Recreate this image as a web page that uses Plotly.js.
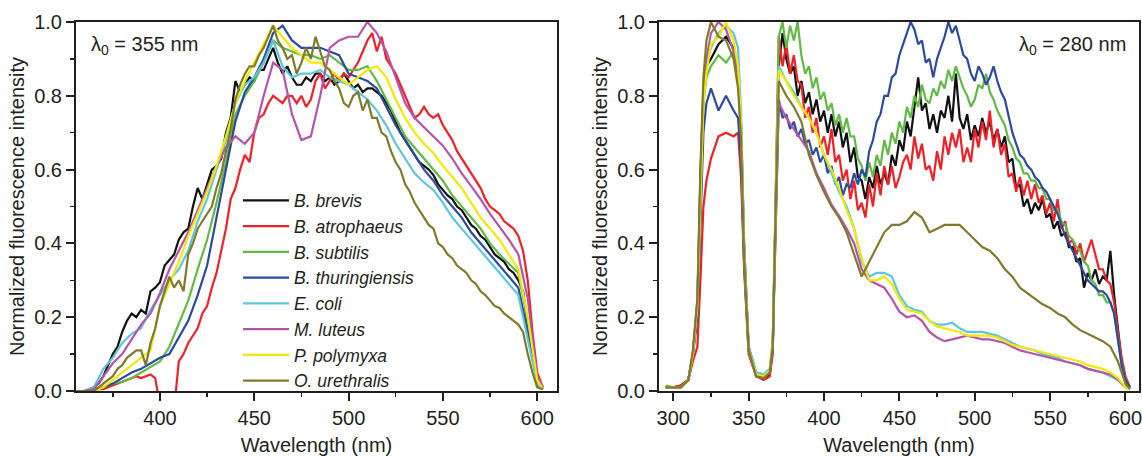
<!DOCTYPE html>
<html>
<head>
<meta charset="utf-8">
<script src="https://cdn.plot.ly/plotly-3.0.1.min.js"></script>
<style>
  html, body { margin: 0; padding: 0; background: #ffffff; }
  #chart { width: 1142px; height: 456px; }
</style>
</head>
<body>
<div id="chart"></div>
<script>
// ---------- data ----------
const seriesNames = ['B. brevis', 'B. atrophaeus', 'B. subtilis', 'B. thuringiensis',
                     'E. coli', 'M. luteus', 'P. polymyxa', 'O. urethralis'];
const seriesColors = ['#111111', '#ee2128', '#62b945', '#2c4b9f',
                      '#5ec6dc', '#b455ab', '#f3e800', '#7f7b2d'];

// ===== left panel: excitation 355 nm =====
// coarse wavelength grid (smoother spectra)
const wlL = [355,360,365,370,375,380,385,390,395,400,405,410,415,420,425,430,435,440,445,450,
             455,460,465,470,475,480,485,490,495,500,505,510,515,520,525,530,535,540,545,550,
             555,560,565,570,575,580,585,590,595,600,603];
// fine wavelength grid (noisier spectra)
const wlLn = [355,360,
  365,367.5,370,372.5,375,377.5,380,382.5,385,387.5,
  390,392.5,395,397.5,400,402.5,405,407.5,410,412.5,
  415,417.5,420,422.5,425,427.5,430,432.5,435,437.5,
  440,442.5,445,447.5,450,452.5,455,457.5,460,462.5,
  465,467.5,470,472.5,475,477.5,480,482.5,485,487.5,
  490,492.5,495,497.5,500,502.5,505,507.5,510,512.5,
  515,517.5,520,522.5,525,527.5,530,532.5,535,537.5,
  540,542.5,545,547.5,550,552.5,555,557.5,560,562.5,
  565,567.5,570,572.5,575,577.5,580,582.5,585,587.5,
  590,592.5,595,597.5,600,
  603];

const brevisL = [0,0,
  0.01,0.02,0.04,0.07,0.10,0.12,0.16,0.19,0.21,0.20,
  0.22,0.21,0.27,0.28,0.295,0.34,0.355,0.37,0.41,0.43,
  0.44,0.50,0.55,0.52,0.56,0.60,0.61,0.63,0.70,0.74,
  0.84,0.81,0.83,0.85,0.84,0.87,0.87,0.90,0.93,0.89,
  0.86,0.88,0.85,0.83,0.83,0.85,0.84,0.86,0.86,0.84,
  0.85,0.83,0.84,0.86,0.84,0.82,0.83,0.81,0.82,0.82,
  0.81,0.80,0.78,0.76,0.73,0.70,0.68,0.66,0.64,0.62,
  0.61,0.60,0.585,0.56,0.545,0.53,0.52,0.50,0.49,0.47,
  0.45,0.44,0.42,0.41,0.39,0.37,0.36,0.35,0.33,0.32,
  0.30,0.27,0.18,0.09,0.03,
  0.005];
const atrophaeusL = [0,0,
  0.005,0.005,0.005,0.01,0.015,0.02,0.025,0.03,0.035,0.04,
  0.035,0.04,0.045,0.035,-0.04,-0.05,-0.05,-0.05,0.08,0.10,
  0.13,0.15,0.17,0.21,0.23,0.28,0.32,0.38,0.44,0.52,
  0.55,0.60,0.64,0.62,0.70,0.74,0.75,0.78,0.80,0.79,
  0.78,0.80,0.80,0.78,0.80,0.77,0.79,0.84,0.86,0.82,
  0.84,0.86,0.84,0.86,0.85,0.87,0.89,0.92,0.95,0.97,
  0.92,0.96,0.90,0.88,0.86,0.83,0.80,0.77,0.74,0.75,
  0.77,0.75,0.74,0.75,0.72,0.70,0.68,0.65,0.63,0.61,
  0.59,0.57,0.55,0.52,0.50,0.49,0.48,0.46,0.45,0.44,
  0.42,0.38,0.30,0.16,0.05,
  0.01];
const urethralisL = [0,0,
  0.0,0.01,0.02,0.03,0.04,0.06,0.07,0.09,0.10,0.11,
  0.11,0.07,0.13,0.17,0.23,0.27,0.31,0.28,0.30,0.27,
  0.37,0.40,0.44,0.46,0.48,0.50,0.55,0.59,0.65,0.71,
  0.79,0.83,0.86,0.88,0.88,0.91,0.93,0.96,0.99,0.95,
  0.93,0.90,0.91,0.86,0.89,0.93,0.90,0.96,0.92,0.88,
  0.87,0.84,0.82,0.78,0.77,0.80,0.81,0.76,0.79,0.74,
  0.74,0.70,0.69,0.65,0.62,0.60,0.56,0.54,0.51,0.49,
  0.47,0.45,0.44,0.40,0.39,0.37,0.36,0.34,0.33,0.32,
  0.30,0.29,0.27,0.26,0.245,0.23,0.225,0.21,0.20,0.19,
  0.18,0.16,0.10,0.05,0.01,
  0.005];
const subtilisL = [0,0,0,0.01,0.02,0.025,0.035,0.05,0.065,0.08,0.12,0.18,0.245,0.33,0.41,0.51,0.62,0.75,0.80,0.84,
                   0.89,0.95,0.93,0.92,0.91,0.91,0.90,0.91,0.89,0.87,0.87,0.88,0.84,0.79,0.74,0.69,0.66,0.63,0.60,0.57,
                   0.53,0.50,0.47,0.44,0.40,0.37,0.345,0.32,0.19,0.03,0.005];
const thuringiensisL = [0,0,0.005,0.01,0.02,0.035,0.05,0.06,0.075,0.09,0.10,0.145,0.19,0.26,0.34,0.47,0.60,0.73,0.81,0.85,
                        0.90,0.97,0.99,0.95,0.93,0.93,0.93,0.92,0.91,0.86,0.85,0.84,0.82,0.77,0.72,0.68,0.64,0.60,0.57,0.53,
                        0.50,0.47,0.43,0.40,0.37,0.34,0.31,0.28,0.16,0.02,0.005];
const coliL = [0,0,0.01,0.06,0.09,0.13,0.155,0.17,0.22,0.26,0.30,0.33,0.38,0.46,0.52,0.60,0.68,0.78,0.83,0.85,
               0.89,0.95,0.88,0.85,0.86,0.86,0.87,0.85,0.84,0.83,0.81,0.79,0.76,0.72,0.67,0.63,0.59,0.565,0.545,0.51,
               0.47,0.44,0.41,0.38,0.35,0.32,0.29,0.26,0.14,0.02,0.005];
const luteusL = [0,0,0.005,0.04,0.075,0.10,0.14,0.18,0.21,0.265,0.33,0.38,0.43,0.49,0.55,0.61,0.66,0.69,0.67,0.70,
                 0.80,0.89,0.87,0.75,0.68,0.69,0.80,0.93,0.95,0.96,0.96,1.0,0.97,0.92,0.85,0.78,0.74,0.715,0.69,0.665,
                 0.63,0.59,0.555,0.52,0.48,0.445,0.41,0.37,0.25,0.04,0.01];
const polymyxaL = [0,0,0,0.01,0.03,0.05,0.07,0.09,0.11,0.23,0.29,0.35,0.42,0.48,0.54,0.61,0.69,0.78,0.84,0.89,
                   0.94,0.99,0.96,0.93,0.91,0.89,0.89,0.87,0.85,0.83,0.85,0.87,0.88,0.85,0.79,0.74,0.70,0.67,0.645,0.61,
                   0.58,0.55,0.51,0.47,0.44,0.41,0.37,0.33,0.20,0.03,0.005];

// ===== right panel: excitation 280 nm =====
const wlR = [295,300,305,310,313,316,318,320,322,325,330,335,340,343,345,347,350,355,360,364,366,368,
             370,375,380,385,390,395,400,405,410,415,420,425,430,435,440,445,450,455,460,465,
             470,475,480,485,490,495,500,505,510,515,520,525,530,535,540,545,550,555,560,565,
             570,575,580,585,590,595,600,603];
const wlRn = [295,300,305,310,313,316,318,320,322,325,330,335,340,343,345,347,350,355,360,364,366,368,
  370,372.5,375,377.5,380,382.5,385,387.5,390,392.5,
  395,397.5,400,402.5,405,407.5,410,412.5,415,417.5,
  420,422.5,425,427.5,430,432.5,435,437.5,440,442.5,
  445,447.5,450,452.5,455,457.5,460,462.5,465,467.5,
  470,472.5,475,477.5,480,482.5,485,487.5,490,492.5,
  495,497.5,500,502.5,505,507.5,510,512.5,515,517.5,
  520,522.5,525,527.5,530,532.5,535,537.5,540,542.5,
  545,547.5,550,552.5,555,557.5,560,562.5,565,567.5,
  570,572.5,575,577.5,580,582.5,585,587.5,590,592.5,
  595,597.5,600,
  603];

const brevisR = [0.01,0.01,0.015,0.03,0.10,0.24,0.58,0.82,0.88,0.90,0.94,0.96,0.93,0.86,0.72,0.40,0.12,0.045,0.035,0.045,0.12,0.50,
  0.88,0.97,0.90,0.86,0.88,0.80,0.84,0.78,0.81,0.75,
  0.79,0.73,0.76,0.70,0.75,0.69,0.73,0.66,0.70,0.62,
  0.66,0.58,0.57,0.52,0.58,0.55,0.61,0.56,0.59,0.56,
  0.64,0.61,0.68,0.65,0.73,0.69,0.77,0.85,0.76,0.78,
  0.71,0.75,0.70,0.76,0.74,0.80,0.73,0.86,0.74,0.71,
  0.75,0.68,0.72,0.69,0.74,0.70,0.73,0.68,0.71,0.66,
  0.69,0.62,0.63,0.55,0.56,0.50,0.52,0.48,0.51,0.49,
  0.52,0.47,0.48,0.44,0.46,0.42,0.43,0.39,0.39,0.35,
  0.36,0.28,0.32,0.30,0.33,0.29,0.31,0.30,0.38,0.26,
  0.17,0.08,0.03,
  0.01];
const atrophaeusR = [0.01,0.01,0.015,0.03,0.08,0.12,0.30,0.50,0.57,0.63,0.69,0.70,0.69,0.70,0.58,0.33,0.10,0.04,0.03,0.04,0.10,0.50,
  0.96,0.88,0.94,0.86,0.91,0.84,0.83,0.74,0.77,0.70,
  0.74,0.66,0.69,0.64,0.71,0.62,0.64,0.57,0.60,0.52,
  0.57,0.49,0.51,0.47,0.56,0.50,0.59,0.53,0.61,0.56,
  0.61,0.55,0.58,0.62,0.64,0.60,0.69,0.63,0.67,0.60,
  0.61,0.57,0.65,0.60,0.69,0.64,0.70,0.66,0.71,0.62,
  0.66,0.62,0.71,0.66,0.73,0.68,0.76,0.66,0.71,0.64,
  0.67,0.58,0.59,0.54,0.58,0.53,0.57,0.52,0.56,0.51,
  0.53,0.48,0.51,0.46,0.52,0.44,0.46,0.40,0.41,0.37,
  0.40,0.35,0.38,0.41,0.37,0.33,0.33,0.30,0.29,0.24,
  0.16,0.09,0.04,
  0.01];
const subtilisR = [0.015,0.01,0.01,0.03,0.10,0.20,0.50,0.78,0.85,0.88,0.91,0.89,0.92,0.85,0.70,0.38,0.12,0.05,0.045,0.055,0.13,0.55,
  0.96,1.0,0.93,0.99,0.95,1.0,0.91,0.86,0.88,0.82,
  0.85,0.79,0.81,0.76,0.78,0.72,0.75,0.70,0.74,0.69,
  0.69,0.63,0.61,0.57,0.62,0.58,0.64,0.61,0.68,0.64,
  0.70,0.67,0.73,0.70,0.77,0.74,0.80,0.77,0.83,0.79,
  0.78,0.82,0.80,0.84,0.82,0.87,0.84,0.88,0.85,0.82,
  0.80,0.77,0.79,0.83,0.82,0.86,0.81,0.79,0.76,0.74,
  0.72,0.68,0.66,0.63,0.62,0.59,0.59,0.57,0.57,0.55,
  0.55,0.52,0.52,0.49,0.49,0.46,0.45,0.42,0.41,0.39,
  0.38,0.35,0.34,0.30,0.29,0.26,0.26,0.24,0.24,0.21,
  0.14,0.07,0.03,
  0.01];
const thuringiensisR = [0.01,0.01,0.01,0.03,0.10,0.20,0.48,0.70,0.78,0.82,0.76,0.80,0.76,0.74,0.62,0.35,0.11,0.045,0.04,0.05,0.12,0.45,
  0.79,0.74,0.75,0.71,0.73,0.69,0.71,0.67,0.68,0.64,
  0.66,0.62,0.64,0.59,0.61,0.56,0.58,0.53,0.56,0.55,
  0.59,0.56,0.60,0.58,0.65,0.68,0.73,0.75,0.80,0.80,
  0.85,0.86,0.91,0.94,0.97,1.0,0.98,0.94,0.95,0.89,
  0.90,0.85,0.90,0.93,0.96,1.0,0.97,0.99,0.95,0.91,
  0.90,0.86,0.84,0.88,0.86,0.83,0.85,0.88,0.84,0.81,
  0.79,0.74,0.70,0.67,0.64,0.63,0.61,0.60,0.58,0.57,
  0.55,0.54,0.52,0.50,0.48,0.45,0.42,0.40,0.38,0.36,
  0.34,0.32,0.30,0.29,0.28,0.27,0.27,0.26,0.24,0.21,
  0.14,0.07,0.03,
  0.01];
const coliR = [0.01,0.01,0.01,0.03,0.10,0.25,0.55,0.80,0.88,0.93,0.97,0.99,0.97,0.93,0.75,0.40,0.12,0.05,0.045,0.06,0.14,0.55,
               0.88,0.84,0.81,0.77,0.74,0.70,0.64,0.59,0.54,0.50,0.44,0.35,0.31,0.32,0.32,0.31,0.26,0.23,0.22,0.215,
               0.19,0.18,0.18,0.185,0.17,0.16,0.16,0.16,0.155,0.15,0.14,0.13,0.12,0.115,0.11,0.10,0.095,0.09,0.08,0.075,
               0.07,0.06,0.055,0.05,0.04,0.03,0.01,0.005];
const luteusR = [0.01,0.01,0.01,0.03,0.10,0.24,0.56,0.80,0.90,0.97,1.0,0.98,0.92,0.85,0.70,0.37,0.11,0.04,0.035,0.05,0.12,0.48,
                 0.78,0.74,0.71,0.68,0.65,0.59,0.55,0.505,0.475,0.44,0.40,0.33,0.30,0.29,0.28,0.25,0.215,0.20,0.205,0.19,
                 0.16,0.145,0.135,0.14,0.145,0.15,0.145,0.14,0.14,0.135,0.13,0.12,0.11,0.105,0.10,0.095,0.09,0.085,0.08,0.075,
                 0.07,0.06,0.055,0.05,0.045,0.03,0.01,0.005];
const polymyxaR = [0.01,0.01,0.01,0.03,0.10,0.23,0.54,0.78,0.86,0.94,0.96,1.0,0.95,0.88,0.72,0.38,0.11,0.045,0.04,0.055,0.13,0.50,
                   0.87,0.84,0.80,0.77,0.74,0.70,0.64,0.60,0.55,0.49,0.44,0.36,0.30,0.30,0.31,0.29,0.25,0.22,0.215,0.21,
                   0.19,0.175,0.17,0.165,0.16,0.15,0.15,0.15,0.15,0.145,0.135,0.125,0.12,0.115,0.11,0.105,0.10,0.095,0.09,0.085,
                   0.08,0.07,0.065,0.06,0.05,0.035,0.01,0.005];
const urethralisR = [0.01,0.01,0.01,0.03,0.11,0.25,0.60,0.85,0.95,1.0,0.96,0.95,0.90,0.82,0.68,0.36,0.11,0.04,0.035,0.05,0.12,0.50,
                     0.84,0.80,0.77,0.73,0.64,0.585,0.54,0.50,0.47,0.43,0.37,0.31,0.35,0.39,0.43,0.45,0.45,0.46,0.485,0.47,
                     0.43,0.44,0.45,0.45,0.45,0.43,0.41,0.39,0.38,0.36,0.33,0.31,0.28,0.265,0.25,0.235,0.225,0.21,0.20,0.18,
                     0.165,0.155,0.145,0.135,0.12,0.08,0.02,0.005];

// [x grid, y values] for each species, in legend order
const leftSeries = [[wlLn, brevisL], [wlLn, atrophaeusL], [wlL, subtilisL], [wlL, thuringiensisL],
                    [wlL, coliL], [wlL, luteusL], [wlL, polymyxaL], [wlLn, urethralisL]];
const rightSeries = [[wlRn, brevisR], [wlRn, atrophaeusR], [wlRn, subtilisR], [wlRn, thuringiensisR],
                     [wlR, coliR], [wlR, luteusR], [wlR, polymyxaR], [wlR, urethralisR]];

// ---------- traces ----------
const traces = [];
leftSeries.forEach((s, i) => {
  traces.push({
    type: 'scatter', mode: 'lines', x: s[0], y: s[1], name: seriesNames[i],
    xaxis: 'x', yaxis: 'y', line: {color: seriesColors[i], width: 2.2},
    showlegend: true, hoverinfo: 'skip'
  });
});
rightSeries.forEach((s, i) => {
  traces.push({
    type: 'scatter', mode: 'lines', x: s[0], y: s[1], name: seriesNames[i],
    xaxis: 'x2', yaxis: 'y2', line: {color: seriesColors[i], width: 2.2},
    showlegend: false, hoverinfo: 'skip'
  });
});

// ---------- layout ----------
const ink = '#231f20';
const baseX = {
  showline: true, mirror: true, linecolor: ink, linewidth: 2,
  ticks: 'outside', ticklen: 8, tickwidth: 2, tickcolor: ink,
  showgrid: false, zeroline: false, dtick: 50, ticklabeloverflow: 'allow',
  minor: {dtick: 25, ticks: 'outside', ticklen: 4, tickwidth: 1.5, tickcolor: ink, showgrid: false},
  tickfont: {size: 20, color: ink},
  title: {text: 'Wavelength (nm)', font: {size: 20, color: ink}, standoff: 30}
};
const baseY = {
  showline: true, mirror: true, linecolor: ink, linewidth: 2,
  ticks: 'outside', ticklen: 8, tickwidth: 2, tickcolor: ink,
  showgrid: false, zeroline: false, range: [0, 1], dtick: 0.2, tick0: 0, tickformat: '.1f',
  minor: {dtick: 0.1, ticks: 'outside', ticklen: 4, tickwidth: 1.5, tickcolor: ink, showgrid: false},
  tickfont: {size: 20, color: ink},
  title: {text: 'Normalized fluorescence intensity', font: {size: 20, color: ink}, standoff: 4}
};

const layout = {
  width: 1142, height: 456,
  margin: {l: 76, r: 3, t: 22, b: 65},
  paper_bgcolor: '#ffffff', plot_bgcolor: '#ffffff',
  font: {family: 'Liberation Sans, Arial, sans-serif', size: 20, color: ink},
  xaxis: Object.assign({}, baseX, {domain: [0, 0.4525], range: [355.5, 610.5], tick0: 400, anchor: 'y'}),
  yaxis: Object.assign({}, baseY, {domain: [0, 1], anchor: 'x'}),
  xaxis2: Object.assign({}, baseX, {domain: [0.5484, 1], range: [290.5, 609], tick0: 300, anchor: 'y2'}),
  yaxis2: Object.assign({}, baseY, {domain: [0, 1], anchor: 'x2'}),
  showlegend: true,
  legend: {
    x: 0.1524, xanchor: 'left', y: 0.565, yanchor: 'top',
    bgcolor: 'rgba(0,0,0,0)', borderwidth: 0,
    font: {size: 17.5, color: ink, style: 'italic'},
    itemwidth: 46, tracegroupgap: 0
  },
  annotations: [
    {xref: 'paper', yref: 'paper', x: 0.0122, y: 0.936, xanchor: 'left', yanchor: 'middle',
     text: 'λ<sub>0</sub> = 355 nm', showarrow: false, font: {size: 20, color: ink}},
    {xref: 'paper', yref: 'paper', x: 0.9897, y: 0.936, xanchor: 'right', yanchor: 'middle',
     text: 'λ<sub>0</sub> = 280 nm', showarrow: false, font: {size: 20, color: ink}}
  ]
};

Plotly.newPlot('chart', traces, layout, {staticPlot: true, displayModeBar: false});
</script>
</body>
</html>
